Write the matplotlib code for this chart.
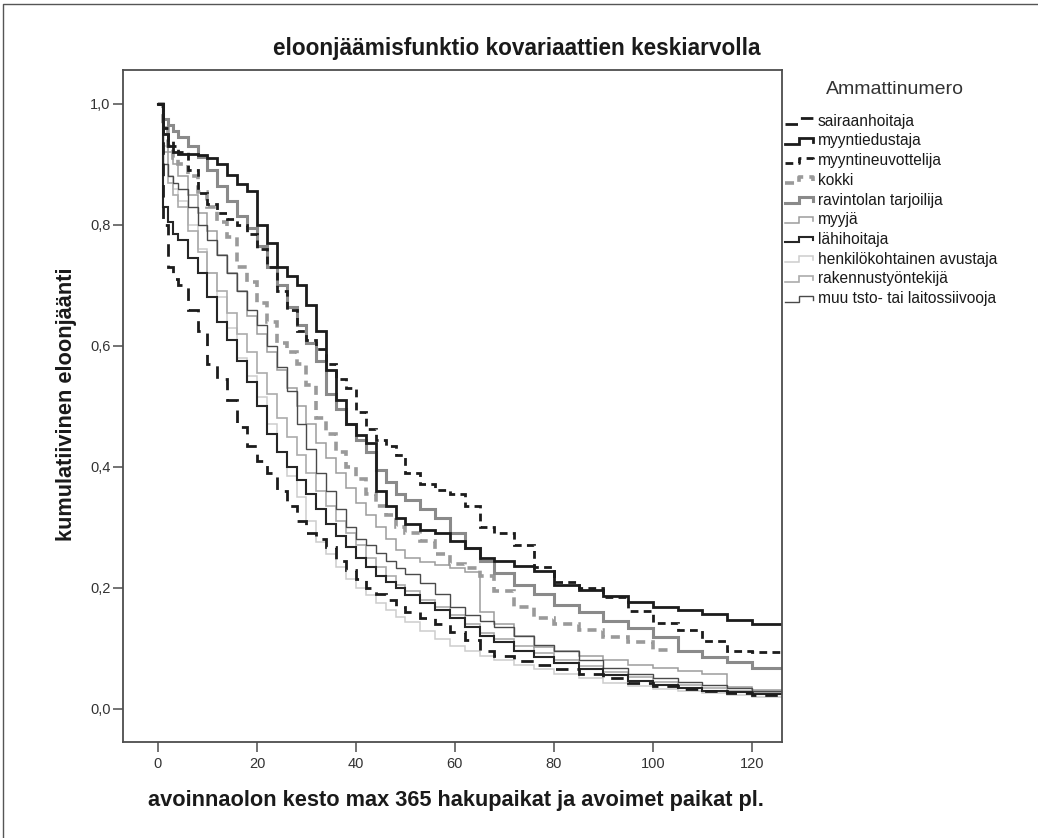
import matplotlib
matplotlib.use("Agg")
import matplotlib.pyplot as plt
from matplotlib import font_manager
from matplotlib.lines import Line2D
from matplotlib.ticker import FuncFormatter, FixedLocator

W, H = 1038, 838

_installed = {f.name for f in font_manager.fontManager.ttflist}
NARROW = "Liberation Sans Narrow" if "Liberation Sans Narrow" in _installed else "Liberation Sans"
plt.rcParams["font.family"] = ["Liberation Sans", "DejaVu Sans"]

# Kaplan-Meier style survival values, shared time grid
TIMES = [0, 1, 2, 3, 4, 6, 8, 10, 12, 14, 16, 18, 20, 22, 24, 26, 28, 30, 32, 34,
         36, 38, 40, 42, 44, 46, 48, 50, 53, 56, 59, 62, 65, 68, 72, 76, 80, 85,
         90, 95, 100, 105, 110, 115, 120, 127]

sairaanhoitaja = [1.0, 0.80, 0.73, 0.71, 0.70, 0.66, 0.625, 0.57, 0.545, 0.51, 0.465, 0.435, 0.41,
                  0.39, 0.36, 0.335, 0.31, 0.29, 0.28, 0.268, 0.245, 0.23, 0.215,
                  0.20, 0.19, 0.18, 0.168, 0.16, 0.15, 0.14, 0.127, 0.113, 0.095, 0.088,
                  0.079, 0.072, 0.065, 0.057, 0.05, 0.042, 0.037, 0.033, 0.03, 0.026, 0.023, 0.02]
myyntiedustaja = [1.0, 0.95, 0.93, 0.92, 0.917, 0.917, 0.915, 0.91, 0.90, 0.882, 0.868, 0.856, 0.80,
                  0.77, 0.73, 0.716, 0.70, 0.668, 0.625, 0.56, 0.51, 0.47, 0.452,
                  0.44, 0.36, 0.335, 0.315, 0.305, 0.296, 0.29, 0.277, 0.265, 0.25, 0.244,
                  0.236, 0.228, 0.205, 0.196, 0.187, 0.177, 0.168, 0.163, 0.156, 0.146, 0.14, 0.137]
myyntineuvottelija = [1.0, 0.96, 0.94, 0.93, 0.92, 0.89, 0.852, 0.835, 0.82, 0.81, 0.80, 0.785, 0.76,
                      0.73, 0.69, 0.66, 0.625, 0.61, 0.595, 0.57, 0.545, 0.53, 0.49,
                      0.462, 0.445, 0.435, 0.42, 0.39, 0.372, 0.362, 0.355, 0.335, 0.30, 0.29,
                      0.27, 0.235, 0.21, 0.20, 0.185, 0.162, 0.142, 0.13, 0.112, 0.096, 0.094, 0.084]
kokki = [1.0, 0.96, 0.93, 0.91, 0.90, 0.88, 0.855, 0.83, 0.805, 0.78, 0.73, 0.705, 0.67,
         0.64, 0.605, 0.59, 0.57, 0.535, 0.48, 0.455, 0.425, 0.40, 0.38,
         0.355, 0.335, 0.32, 0.30, 0.29, 0.278, 0.255, 0.24, 0.232, 0.22, 0.195,
         0.168, 0.15, 0.14, 0.13, 0.118, 0.11, 0.097]
ravintolan_tarjoilija = [1.0, 0.975, 0.965, 0.955, 0.945, 0.93, 0.912, 0.89, 0.865, 0.84, 0.815, 0.795, 0.765,
                         0.73, 0.70, 0.665, 0.635, 0.605, 0.575, 0.52, 0.495, 0.47, 0.445,
                         0.425, 0.395, 0.375, 0.355, 0.345, 0.33, 0.315, 0.29, 0.265, 0.245, 0.225,
                         0.205, 0.19, 0.172, 0.16, 0.145, 0.133, 0.118, 0.095, 0.085, 0.078, 0.068, 0.058]
myyja = [1.0, 0.95, 0.92, 0.90, 0.88, 0.85, 0.82, 0.79, 0.75, 0.72, 0.69, 0.65, 0.62,
         0.59, 0.56, 0.53, 0.50, 0.47, 0.44, 0.415, 0.39, 0.365, 0.34,
         0.32, 0.30, 0.28, 0.262, 0.25, 0.243, 0.238, 0.232, 0.226, 0.16, 0.14,
         0.12, 0.102, 0.095, 0.088, 0.08, 0.073, 0.067, 0.062, 0.058, 0.036, 0.031, 0.027]
lahihoitaja = [1.0, 0.83, 0.805, 0.785, 0.775, 0.745, 0.72, 0.68, 0.64, 0.61, 0.575, 0.54, 0.50,
               0.455, 0.425, 0.40, 0.378, 0.355, 0.33, 0.305, 0.285, 0.268, 0.25,
               0.235, 0.22, 0.21, 0.20, 0.188, 0.175, 0.163, 0.15, 0.135, 0.12, 0.11,
               0.095, 0.085, 0.075, 0.065, 0.055, 0.046, 0.04, 0.035, 0.03, 0.027, 0.024, 0.02]
henkilokohtainen = [1.0, 0.93, 0.88, 0.86, 0.84, 0.80, 0.76, 0.72, 0.68, 0.63, 0.58, 0.55, 0.515,
                    0.47, 0.425, 0.385, 0.35, 0.31, 0.275, 0.255, 0.235, 0.215, 0.20,
                    0.188, 0.175, 0.163, 0.152, 0.143, 0.128, 0.115, 0.103, 0.095, 0.087, 0.08,
                    0.072, 0.065, 0.058, 0.05, 0.043, 0.037, 0.033, 0.029, 0.026, 0.023, 0.02, 0.017]
rakennus = [1.0, 0.92, 0.87, 0.85, 0.83, 0.79, 0.755, 0.72, 0.69, 0.655, 0.62, 0.59, 0.555,
            0.52, 0.48, 0.45, 0.42, 0.39, 0.36, 0.335, 0.31, 0.29, 0.27,
            0.25, 0.235, 0.22, 0.205, 0.195, 0.18, 0.168, 0.155, 0.14, 0.125, 0.115,
            0.103, 0.092, 0.08, 0.07, 0.06, 0.052, 0.045, 0.04, 0.035, 0.03, 0.027, 0.022]
siivooja = [1.0, 0.90, 0.88, 0.87, 0.86, 0.83, 0.80, 0.775, 0.75, 0.72, 0.69, 0.66, 0.635,
            0.60, 0.565, 0.525, 0.47, 0.43, 0.39, 0.36, 0.33, 0.30, 0.28,
            0.27, 0.258, 0.245, 0.232, 0.222, 0.208, 0.19, 0.168, 0.155, 0.145, 0.135,
            0.12, 0.105, 0.095, 0.08, 0.068, 0.057, 0.05, 0.045, 0.04, 0.034, 0.03, 0.025]

KOKKI_END = 104

LABELS = ["sairaanhoitaja", "myyntiedustaja", "myyntineuvottelija", "kokki",
          "ravintolan tarjoilija", "myyjä", "lähihoitaja", "henkilökohtainen avustaja",
          "rakennustyöntekijä", "muu tsto- tai laitossiivooja"]
SERIES = [sairaanhoitaja, myyntiedustaja, myyntineuvottelija, kokki,
          ravintolan_tarjoilija, myyja, lahihoitaja, henkilokohtainen,
          rakennus, siivooja]

# colour, width, dash pattern (None = solid)
STYLES = [
    ("#1c1c1c", 2.0, (4.5, 3.2)),
    ("#1c1c1c", 2.0, None),
    ("#1c1c1c", 2.0, (2.8, 1.9)),
    ("#9a9a9a", 2.6, (2.5, 1.7)),
    ("#8a8a8a", 2.2, None),
    ("#9c9c9c", 1.1, None),
    ("#262626", 1.5, None),
    ("#cdcdcd", 1.1, None),
    ("#ababab", 1.2, None),
    ("#4a4a4a", 1.0, None),
]
DRAW_ORDER = [7, 8, 5, 9, 3, 4, 6, 0, 2, 1]

fig = plt.figure(figsize=(W / 100, H / 100), dpi=100)
fig.patch.set_facecolor("white")


def fx(px):
    return px / W


def fy(py):
    return 1 - py / H


ax = fig.add_axes([fx(123), fy(742), fx(782) - fx(123), fy(70) - fy(742)])
ax.set_xlim(-7.07, 126.1)
ax.set_ylim(-0.055, 1.056)

for i in DRAW_ORDER:
    vals = SERIES[i]
    color, lw, dash = STYLES[i]
    xs = TIMES[:len(vals)]
    ys = list(vals)
    if len(vals) < len(TIMES):
        xs = xs + [KOKKI_END]
        ys = ys + [vals[-1]]
    line, = ax.plot(xs, ys, drawstyle="steps-post", color=color, lw=lw,
                    solid_joinstyle="miter", dash_joinstyle="miter")
    if dash is not None:
        line.set_dashes(dash)

for side in ["top", "bottom", "left", "right"]:
    ax.spines[side].set_color("#4d4d4d")
    ax.spines[side].set_linewidth(1.3)

ax.xaxis.set_major_locator(FixedLocator([0, 20, 40, 60, 80, 100, 120]))
ax.yaxis.set_major_locator(FixedLocator([0.0, 0.2, 0.4, 0.6, 0.8, 1.0]))
ax.yaxis.set_major_formatter(FuncFormatter(lambda v, p: f"{v:.1f}".replace(".", ",")))
ax.tick_params(axis="both", direction="out", length=7, width=1.1, color="#4d4d4d",
               labelsize=10.5, labelcolor="#333333")
ax.tick_params(axis="x", pad=4)
ax.tick_params(axis="y", pad=2)

fig.text(fx(517), fy(49), "eloonjäämisfunktio kovariaattien keskiarvolla",
         ha="center", va="center", fontsize=16.3, fontweight="bold",
         family=[NARROW, "DejaVu Sans"], color="#1a1a1a")
fig.text(fx(456), fy(800), "avoinnaolon kesto max 365 hakupaikat ja avoimet paikat pl.",
         ha="center", va="center", fontsize=15.7, fontweight="bold",
         family=[NARROW, "DejaVu Sans"], color="#1a1a1a")
fig.text(fx(67), fy(404), "kumulatiivinen eloonjäänti", rotation=90,
         ha="center", va="center", fontsize=15.7, fontweight="bold",
         family=[NARROW, "DejaVu Sans"], color="#1a1a1a")

# legend, drawn with small step-shaped keys like the plot lines
fig.text(fx(826), fy(90), "Ammattinumero", ha="left", va="center",
         fontsize=14, color="#333333")
for k, label in enumerate(LABELS):
    yc = 121 + k * 19.75
    color, lw, dash = STYLES[k]
    kx = [785, 799, 799, 813, 813]
    ky = [yc + 3, yc + 3, yc - 3, yc - 3, yc + 1]
    key = Line2D([fx(v) for v in kx], [fy(v) for v in ky], transform=fig.transFigure,
                 color=color, lw=lw, solid_joinstyle="miter")
    if dash is not None:
        key.set_dashes(dash)
    fig.add_artist(key)
    fig.text(fx(818), fy(yc), label, ha="left", va="center", fontsize=11.2,
             color="#1a1a1a")

# outer frame around the chart area
fig.add_artist(Line2D([fx(3), fx(3), fx(1038)], [fy(838), fy(4), fy(4)],
                      transform=fig.transFigure, color="#555555", lw=1.0))

fig.savefig("out.png", dpi=100, facecolor="white")
